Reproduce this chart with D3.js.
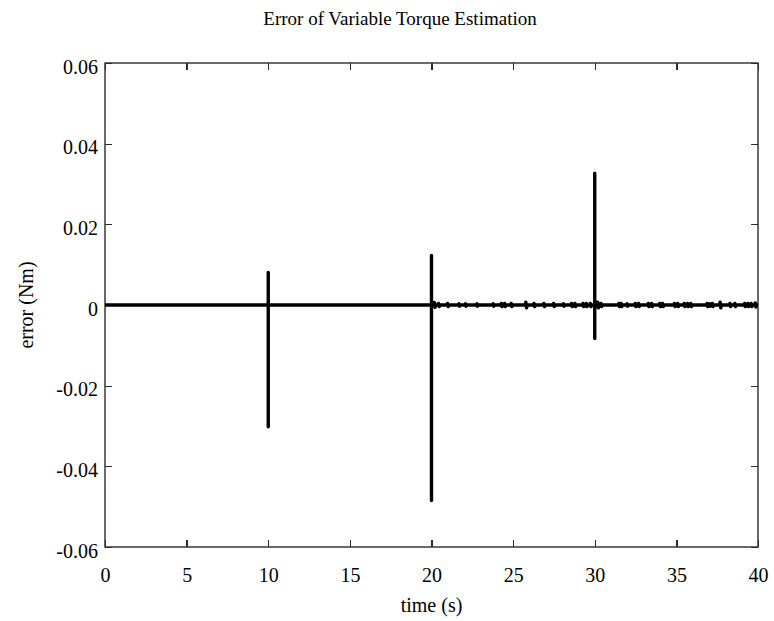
<!DOCTYPE html>
<html>

<head>
  <meta charset="utf-8">
  <title>Error of Variable Torque Estimation</title>
  <script type="text/javascript" src="https://d3js.org/d3.v7.min.js"></script>

  <style>
    body {
      margin: 0;
      background: #ffffff;
    }
    .axis line {
      fill: none;
      stroke: #2b2b2b;
      stroke-width: 1.3px;
      shape-rendering: crispEdges;
    }
    .axis text {
      font-family: "Liberation Serif", "Times New Roman", serif;
      font-size: 20px;
      fill: #000000;
    }
    .label {
      font-family: "Liberation Serif", "Times New Roman", serif;
      font-size: 20px;
      text-anchor: middle;
    }
    .title {
      font-family: "Liberation Serif", "Times New Roman", serif;
      font-size: 19px;
      text-anchor: middle;
    }
    .trace {
      fill: none;
      stroke: #000000;
      stroke-width: 3.4px;
      stroke-linejoin: round;
    }
  </style>
</head>
<body>
  <script type="text/javascript">
    // Tick values
    var xTicks = [0, 5, 10, 15, 20, 25, 30, 35, 40];
    var yTicks = [-0.06, -0.04, -0.02, 0, 0.02, 0.04, 0.06];

    // Estimation error trace (s, Nm): flat, spikes at 10/20/30 s, small ripple blobs after 20 s
    var time = [0, 10, 10, 10, 10,
      20, 20, 20, 20,
      20.14, 20.18, 20.22, 20.26,
      20.39, 20.43, 20.47, 20.51,
      20.94, 20.98, 21.02, 21.06,
      21.64, 21.68, 21.72, 21.76,
      22.04, 22.08, 22.12, 22.16,
      22.74, 22.78, 22.82, 22.86,
      23.74, 23.78, 23.82, 23.86,
      24.24, 24.28, 24.32, 24.36,
      24.44, 24.48, 24.52, 24.56,
      24.84, 24.88, 24.92, 24.96,
      25.74, 25.78, 25.82, 25.86,
      26.24, 26.28, 26.32, 26.36,
      26.84, 26.88, 26.92, 26.96,
      27.44, 27.48, 27.52, 27.56,
      28.04, 28.08, 28.12, 28.16,
      28.54, 28.58, 28.62, 28.66,
      28.74, 28.78, 28.82, 28.86,
      29.24, 29.28, 29.32, 29.36,
      29.44, 29.48, 29.52, 29.56,
      29.69, 29.73, 29.77, 29.81,
      30, 30, 30, 30,
      30.14, 30.18, 30.22, 30.26,
      30.34, 30.38, 30.42, 30.46,
      31.44, 31.48, 31.52, 31.56,
      31.58, 31.62, 31.66, 31.70,
      31.94, 31.98, 32.02, 32.06,
      32.44, 32.48, 32.52, 32.56,
      32.64, 32.68, 32.72, 32.76,
      33.24, 33.28, 33.32, 33.36,
      33.44, 33.48, 33.52, 33.56,
      33.94, 33.98, 34.02, 34.06,
      34.11, 34.15, 34.19, 34.23,
      34.84, 34.88, 34.92, 34.96,
      35.04, 35.08, 35.12, 35.16,
      35.44, 35.48, 35.52, 35.56,
      35.64, 35.68, 35.72, 35.76,
      35.84, 35.88, 35.92, 35.96,
      36.84, 36.88, 36.92, 36.96,
      37.00, 37.04, 37.08, 37.12,
      37.16, 37.20, 37.24, 37.28,
      37.64, 37.68, 37.72, 37.76,
      38.24, 38.28, 38.32, 38.36,
      38.54, 38.58, 38.62, 38.66,
      39.14, 39.18, 39.22, 39.26,
      39.34, 39.38, 39.42, 39.46,
      39.54, 39.58, 39.62, 39.66,
      39.79, 39.83, 39.87, 39.91,
      40];
    var error = [0, 0, 0.0081, -0.0302, 0,
      0, 0.0123, -0.0485, 0,
      0, 0.0006, -0.0006, 0,
      0, 0.0004, -0.0004, 0,
      0, 0.0004, -0.0004, 0,
      0, 0.0003, -0.0003, 0,
      0, 0.0003, -0.0003, 0,
      0, 0.0003, -0.0003, 0,
      0, 0.0003, -0.0003, 0,
      0, 0.0004, -0.0004, 0,
      0, 0.0004, -0.0004, 0,
      0, 0.0004, -0.0004, 0,
      0, 0.0007, -0.0007, 0,
      0, 0.0004, -0.0004, 0,
      0, 0.0004, -0.0004, 0,
      0, 0.0004, -0.0004, 0,
      0, 0.0003, -0.0003, 0,
      0, 0.0004, -0.0004, 0,
      0, 0.0004, -0.0004, 0,
      0, 0.0004, -0.0004, 0,
      0, 0.0004, -0.0004, 0,
      0, 0.0004, -0.0004, 0,
      0, 0.0327, -0.0083, 0,
      0, 0.0007, -0.0007, 0,
      0, 0.0004, -0.0004, 0,
      0, 0.0004, -0.0004, 0,
      0, 0.0004, -0.0004, 0,
      0, 0.0003, -0.0003, 0,
      0, 0.0004, -0.0004, 0,
      0, 0.0004, -0.0004, 0,
      0, 0.0004, -0.0004, 0,
      0, 0.0004, -0.0004, 0,
      0, 0.0004, -0.0004, 0,
      0, 0.0004, -0.0004, 0,
      0, 0.0004, -0.0004, 0,
      0, 0.0004, -0.0004, 0,
      0, 0.0004, -0.0004, 0,
      0, 0.0004, -0.0004, 0,
      0, 0.0004, -0.0004, 0,
      0, 0.0004, -0.0004, 0,
      0, 0.0003, -0.0003, 0,
      0, 0.0004, -0.0004, 0,
      0, 0.0007, -0.0007, 0,
      0, 0.0004, -0.0004, 0,
      0, 0.0004, -0.0004, 0,
      0, 0.0004, -0.0004, 0,
      0, 0.0004, -0.0004, 0,
      0, 0.0004, -0.0004, 0,
      0, 0.0005, -0.0005, 0,
      0];

    // Draw svg figure
    var width = 774;
    var height = 621;
    var svg = d3.select("body").append("svg")
              .attr("width", width)
              .attr("height", height);

    // Plot box
    var boxLeft = 105;
    var boxRight = 758;
    var boxTop = 63;
    var boxBottom = 547;

    var xScale = d3.scaleLinear()
                    .domain([0, 40])
                    .range([boxLeft, boxRight]);
    var yScale = d3.scaleLinear()
                    .domain([-0.06, 0.06])
                    .range([boxBottom, boxTop]);

    // Axes with inward ticks, labels on bottom and left only
    var xAxis = d3.axisBottom(xScale)
                    .tickValues(xTicks)
                    .tickSizeInner(-7)
                    .tickSizeOuter(0)
                    .tickPadding(21)
                    .tickFormat(d3.format("d"));
    svg.append("g")
        .attr("class", "axis")
        .attr("transform", "translate(0," + boxBottom + ")")
        .call(xAxis);

    svg.append("g")
        .attr("class", "axis")
        .attr("transform", "translate(0," + boxTop + ")")
        .call(d3.axisTop(xScale).tickValues(xTicks).tickSizeInner(-7).tickSizeOuter(0).tickFormat(""));

    var yAxis = d3.axisLeft(yScale)
                    .tickValues(yTicks)
                    .tickSizeInner(-7)
                    .tickSizeOuter(0)
                    .tickPadding(7)
                    .tickFormat(function(d) {
                      return d === 0 ? "0" : d3.format(".2f")(d).replace("\u2212", "-");
                    });
    var yAxisG = svg.append("g")
        .attr("class", "axis")
        .attr("transform", "translate(" + boxLeft + ",0)")
        .call(yAxis);
    // y tick labels sit a little below their ticks, like the reference
    yAxisG.selectAll("text").attr("dy", "0.5em");

    svg.append("g")
        .attr("class", "axis")
        .attr("transform", "translate(" + boxRight + ",0)")
        .call(d3.axisRight(yScale).tickValues(yTicks).tickSizeInner(-7).tickSizeOuter(0).tickFormat(""));

    // Remove domain lines, the frame covers them
    svg.selectAll(".axis .domain").remove();

    // Frame
    svg.append("rect")
        .attr("x", boxLeft)
        .attr("y", boxTop)
        .attr("width", boxRight - boxLeft)
        .attr("height", boxBottom - boxTop)
        .attr("fill", "none")
        .attr("stroke", "#2b2b2b")
        .attr("stroke-width", 1.4);

    // Trace
    var points = time.map(function(t, i) { return [t, error[i]]; });
    var line = d3.line()
                  .x(function(d) { return xScale(d[0]); })
                  .y(function(d) { return yScale(d[1]); });
    svg.append("path")
        .datum(points)
        .attr("class", "trace")
        .attr("d", line);

    // Labels and title
    svg.append("text")
        .attr("class", "label")
        .attr("x", (boxLeft + boxRight) / 2)
        .attr("y", 612)
        .text("time (s)");

    svg.append("text")
        .attr("class", "label")
        .attr("transform", "translate(33," + yScale(0) + ") rotate(-90)")
        .text("error (Nm)");

    svg.append("text")
        .attr("class", "title")
        .attr("x", 400)
        .attr("y", 25)
        .text("Error of Variable Torque Estimation");
  </script>
</body>
</html>
